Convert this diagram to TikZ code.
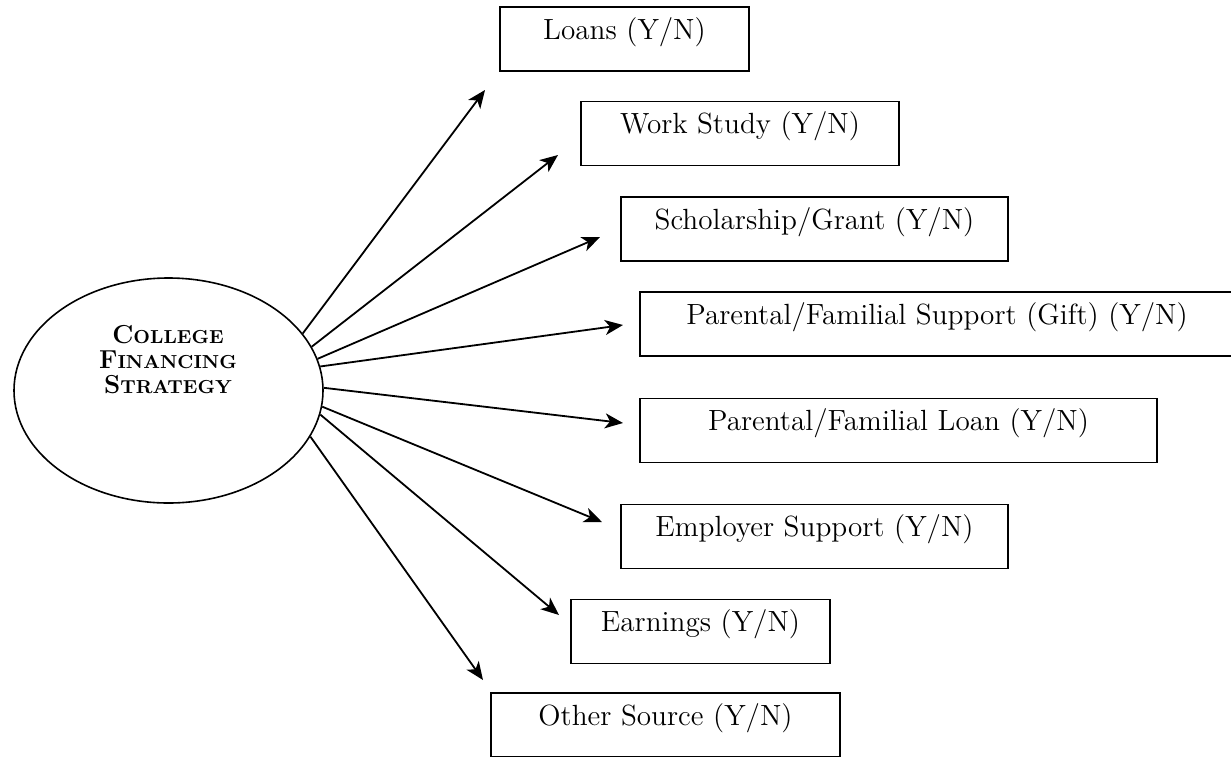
\documentclass[tikz,border=0pt]{standalone}
\usepackage{fontspec}
\usetikzlibrary{arrows.meta,shapes.geometric}
\newcommand{\bigsc}[2]{#1{\fontsize{9.4}{12.5}\selectfont #2}}
\begin{document}
\begin{tikzpicture}[x=0.5pt,y=-0.5pt,
  box/.style={draw, line width=0.7pt, inner xsep=0pt, inner ysep=0pt,
    text height=16pt, text depth=16pt, font=\fontsize{14.6}{16}\selectfont},
  arr/.style={-{Stealth[length=9pt,width=7.5pt,inset=2.5pt]}, line width=0.9pt}]
\useasboundingbox (0,0) rectangle (1231,756);
\fill[white] (0,0) rectangle (1231,756);
% central ellipse
\node[draw, ellipse, line width=0.8pt, minimum width=154.5pt, minimum height=112.5pt, inner sep=0pt] (cfs) at (168.5,390.5) {};
\node[align=center, inner sep=0pt, font=\bfseries\fontsize{13}{12.5}\selectfont] (cfst) at (168,360)
  {\bigsc{C}{OLLEGE}\\\bigsc{F}{INANCING}\\\bigsc{S}{TRATEGY}};
% boxes
\node[box, minimum width=124.5pt] (loans) at (624.5,39) {Loans (Y/N)};
\node[box, minimum width=159pt] (work) at (740,133.5) {Work Study (Y/N)};
\node[box, minimum width=193.5pt] (schol) at (814.5,229) {Scholarship/Grant (Y/N)};
\node[box, minimum width=297pt] (gift) at (937,324) {Parental/Familial Support (Gift) (Y/N)};
\node[box, minimum width=258.5pt] (ploan) at (898.5,430.5) {Parental/Familial Loan (Y/N)};
\node[box, minimum width=193.5pt] (empl) at (814.5,536.5) {Employer Support (Y/N)};
\node[box, minimum width=129.5pt] (earn) at (700.5,631.5) {Earnings (Y/N)};
\node[box, minimum width=174.5pt] (other) at (665.5,725) {Other Source (Y/N)};
% arrow tips
\coordinate (t1) at (485,90);
\coordinate (t2) at (558,155);
\coordinate (t3) at (600,237);
\coordinate (t4) at (623,325);
\coordinate (t5) at (623,423);
\coordinate (t6) at (602,522);
\coordinate (t7) at (559,615);
\coordinate (t8) at (483,680);
\draw[arr] (cfs.23.8) -- (t1);
\draw[arr] (cfs.17.6) -- (t2);
\draw[arr] (cfs.12.7) -- (t3);
\draw[arr] (cfs.9.6) -- (t4);
\draw[arr] (cfs.1.3) -- (t5);
\draw[arr] (cfs.-6.5) -- (t6);
\draw[arr] (cfs.-9.9) -- (t7);
\draw[arr] (cfs.-18) -- (t8);
\end{tikzpicture}
\end{document}
